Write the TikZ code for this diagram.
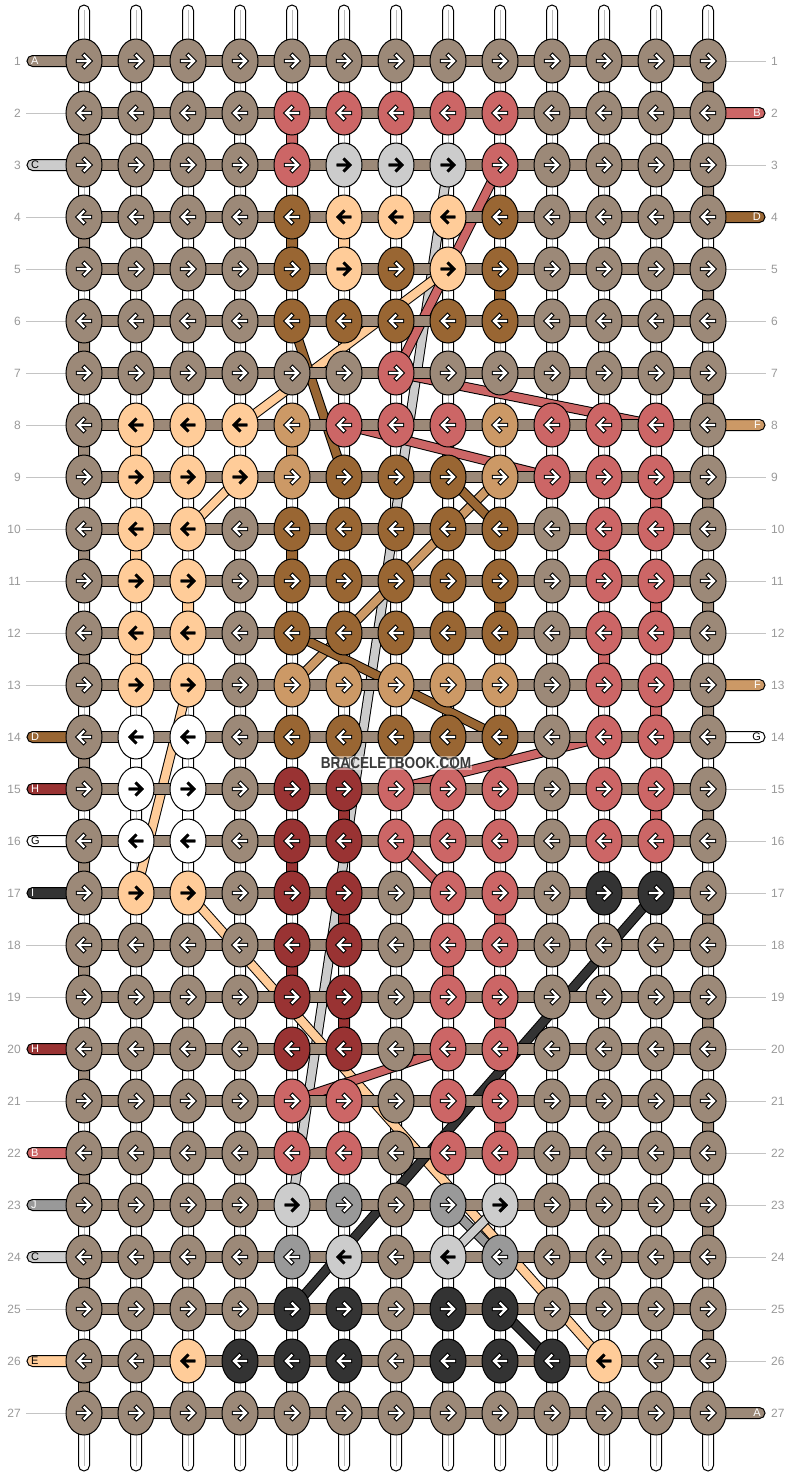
\documentclass[tikz,border=0pt]{standalone}
\usepackage{fontspec}
\setmainfont{Liberation Sans}
\usetikzlibrary{shapes.geometric}
\definecolor{cA}{HTML}{9C8978}
\definecolor{cB}{HTML}{CC6666}
\definecolor{cC}{HTML}{CCCCCC}
\definecolor{cD}{HTML}{996633}
\definecolor{cE}{HTML}{FFCC99}
\definecolor{cF}{HTML}{CC9966}
\definecolor{cG}{HTML}{FFFFFF}
\definecolor{cH}{HTML}{993333}
\definecolor{cI}{HTML}{333333}
\definecolor{cJ}{HTML}{999999}
\definecolor{numgray}{HTML}{999999}
\definecolor{linegray}{HTML}{C4C4C4}
\definecolor{warpline}{HTML}{BBBBBB}
\definecolor{wmark}{HTML}{3A3A3A}
\tikzset{
  knot/.style={ellipse, draw=black, line width=1pt, minimum width=36pt, minimum height=44pt, inner sep=0pt},
  whitearrow/.style={draw=white, line width=2.4pt},
  whiteedge/.style={draw=black, line width=4.4pt},
  blackarrow/.style={draw=black, line width=2.8pt},
  arA/.style={whitearrow}, arB/.style={whitearrow}, arC/.style={blackarrow},
  arD/.style={whitearrow}, arE/.style={blackarrow}, arF/.style={whitearrow},
  arG/.style={blackarrow}, arH/.style={whitearrow}, arI/.style={whitearrow},
  arJ/.style={whitearrow},
  aoA/.style={whiteedge}, aoB/.style={whiteedge}, aoC/.style={blackarrow},
  aoD/.style={whiteedge}, aoE/.style={blackarrow}, aoF/.style={whiteedge},
  aoG/.style={blackarrow}, aoH/.style={whiteedge}, aoI/.style={whiteedge},
  aoJ/.style={whiteedge},
  lbA/.style={text=white}, lbB/.style={text=white}, lbC/.style={text=black},
  lbD/.style={text=white}, lbE/.style={text=black}, lbF/.style={text=white},
  lbG/.style={text=black}, lbH/.style={text=white}, lbI/.style={text=white},
  lbJ/.style={text=white},
  barbox/.style={draw=black, line width=1pt},
  rownum/.style={font=\fontsize{12}{12}\selectfont, text=numgray, inner sep=0pt},
  stublabel/.style={font=\fontsize{11}{11}\selectfont, inner sep=0pt},
  guide/.style={draw=linegray, line width=1pt}
}
\newcommand\knotarrow[3]{%
  \begin{scope}[shift={(#1)}, xscale=#2, line cap=rect, line join=miter]
    \draw[ao#3] (-6,0)--(4.5,0) (0.5,-5.5)--(6,0)--(0.5,5.5);
    \draw[ar#3] (-6,0)--(4.5,0) (0.5,-5.5)--(6,0)--(0.5,5.5);
  \end{scope}}
\newcommand\vlink[3]{%
  \pgfmathtruncatemacro\rnext{#2+1}%
  \filldraw[fill=#1, barbox] ([xshift=-5.5pt]p-#2-#3) rectangle ([xshift=5.5pt]p-\rnext-#3);}
\newcommand\diagline[3]{%
  \draw[line width=10pt, black] (#2) -- (#3);
  \draw[line width=8pt, #1] (#2) -- (#3);}
\newcommand\lstub[2]{%
  \filldraw[fill=c#2, barbox, rounded corners=5.5pt] ([xshift=-57pt,yshift=-5.5pt]p-#1-1) rectangle ([yshift=5.5pt]p-#1-1);
  \node[stublabel, lb#2, anchor=west] (ls-#1) at ([xshift=-53pt]p-#1-1) {#2};}
\newcommand\rstub[2]{%
  \filldraw[fill=c#2, barbox, rounded corners=5.5pt] ([yshift=-5.5pt]p-#1-13) rectangle ([xshift=57pt,yshift=5.5pt]p-#1-13);
  \node[stublabel, lb#2, anchor=east] (rs-#1) at ([xshift=53pt]p-#1-13) {#2};}
\begin{document}
\begin{tikzpicture}[x=1pt,y=-1pt]
\useasboundingbox (0,0) rectangle (792,1476);
% knot centres
\foreach \r in {1,...,27}{\foreach \c in {1,...,13}{%
  \coordinate (p-\r-\c) at ({84+52*(\c-1)},{61+52*(\r-1)});}}
% warps
\foreach \c in {1,...,13}{%
  \pgfmathsetmacro\wx{84+52*(\c-1)}
  \filldraw[fill=white, barbox, rounded corners=5.5pt] (\wx-5.5,5) rectangle (\wx+5.5,1471);
  \draw[warpline, line width=1pt] (\wx,10) -- (\wx,1466);
}
% carried strings (diagonals)
\diagline{cC}{p-3-8}{p-23-5}
\diagline{cE}{p-5-8}{p-8-4}
\diagline{cE}{p-9-4}{p-10-3}
\diagline{cE}{p-13-3}{p-17-2}
\diagline{cE}{p-17-3}{p-26-11}
\diagline{cF}{p-9-9}{p-13-5}
\diagline{cD}{p-6-5}{p-9-6}
\diagline{cD}{p-9-8}{p-10-9}
\diagline{cD}{p-12-5}{p-14-9}
\diagline{cB}{p-3-9}{p-7-7}
\diagline{cB}{p-7-7}{p-8-12}
\diagline{cB}{p-8-6}{p-9-10}
\diagline{cB}{p-14-11}{p-15-7}
\diagline{cB}{p-16-7}{p-17-8}
\diagline{cB}{p-20-8}{p-21-5}
\diagline{cI}{p-17-12}{p-25-5}
\diagline{cI}{p-25-9}{p-26-10}
\diagline{cJ}{p-23-8}{p-24-9}
\diagline{cC}{p-23-9}{p-24-8}
% horizontal background thread
\foreach \r in {1,...,27}{%
  \filldraw[fill=cA, barbox] ([yshift=-5.5pt]p-\r-1) rectangle ([yshift=5.5pt]p-\r-13);}
% row guides and numbers
\foreach \r in {1,...,27}{%
  \draw[guide] ([xshift=-58pt]p-\r-1) -- ([xshift=-18pt]p-\r-1);
  \draw[guide] ([xshift=18pt]p-\r-13) -- ([xshift=58pt]p-\r-13);
  \node[rownum, anchor=east] (ln-\r) at ([xshift=-63pt]p-\r-1) {\r};
  \node[rownum, anchor=west] (rn-\r) at ([xshift=63pt]p-\r-13) {\r};
}
% string ends
\lstub{1}{A}\lstub{3}{C}\lstub{14}{D}\lstub{15}{H}\lstub{16}{G}\lstub{17}{I}
\lstub{20}{H}\lstub{22}{B}\lstub{23}{J}\lstub{24}{C}\lstub{26}{E}
\rstub{2}{B}\rstub{4}{D}\rstub{8}{F}\rstub{13}{F}\rstub{14}{G}\rstub{27}{A}
% vertical links
\foreach \r in {1,3,...,25}{\vlink{cA}{\r}{13}}
\foreach \r in {2,4,...,26}{\vlink{cA}{\r}{1}}
\foreach \lc/\lr/\lcol in {cB/2/5, cB/9/12, cB/10/11, cB/11/12, cB/12/11, cB/13/12, cB/15/12,
  cB/17/9, cB/18/8, cB/19/9, cB/21/9,
  cD/4/5, cD/5/9, cD/10/5, cD/11/9,
  cE/4/6, cE/8/2, cE/10/2, cE/11/3, cE/12/2,
  cF/8/5, cG/14/2, cG/15/3,
  cH/15/6, cH/16/5, cH/17/6, cH/18/5, cH/19/6}{\vlink{\lc}{\lr}{\lcol}}
% knots
\foreach \rowlist [count=\r] in {
{A,A,A,A,A,A,A,A,A,A,A,A,A},
{A,A,A,A,B,B,B,B,B,A,A,A,A},
{A,A,A,A,B,C,C,C,B,A,A,A,A},
{A,A,A,A,D,E,E,E,D,A,A,A,A},
{A,A,A,A,D,E,D,E,D,A,A,A,A},
{A,A,A,A,D,D,D,D,D,A,A,A,A},
{A,A,A,A,A,A,B,A,A,A,A,A,A},
{A,E,E,E,F,B,B,B,F,B,B,B,A},
{A,E,E,E,F,D,D,D,F,B,B,B,A},
{A,E,E,A,D,D,D,D,D,A,B,B,A},
{A,E,E,A,D,D,D,D,D,A,B,B,A},
{A,E,E,A,D,D,D,D,D,A,B,B,A},
{A,E,E,A,F,F,F,F,F,A,B,B,A},
{A,G,G,A,D,D,D,D,D,A,B,B,A},
{A,G,G,A,H,H,B,B,B,A,B,B,A},
{A,G,G,A,H,H,B,B,B,A,B,B,A},
{A,E,E,A,H,H,A,B,B,A,I,I,A},
{A,A,A,A,H,H,A,B,B,A,A,A,A},
{A,A,A,A,H,H,A,B,B,A,A,A,A},
{A,A,A,A,H,H,A,B,B,A,A,A,A},
{A,A,A,A,B,B,A,B,B,A,A,A,A},
{A,A,A,A,B,B,A,B,B,A,A,A,A},
{A,A,A,A,C,J,A,J,C,A,A,A,A},
{A,A,A,A,J,C,A,C,J,A,A,A,A},
{A,A,A,A,I,I,A,I,I,A,A,A,A},
{A,A,E,I,I,I,A,I,I,I,E,A,A},
{A,A,A,A,A,A,A,A,A,A,A,A,A}}{%
  \foreach \k [count=\c] in \rowlist {%
    \node[knot, fill=c\k] (k-\r-\c) at (p-\r-\c) {};
    \ifodd\r \def\dir{1}\else\def\dir{-1}\fi
    \knotarrow{k-\r-\c}{\dir}{\k}
  }
}
% watermark
\node[text=wmark, fill=white, fill opacity=0.45, text opacity=1, inner sep=1pt,
      font=\bfseries\fontsize{16}{16}\selectfont] (wm) at (396,763) {\scalebox{0.85}[1]{BRACELETBOOK.COM}};
\end{tikzpicture}
\end{document}
